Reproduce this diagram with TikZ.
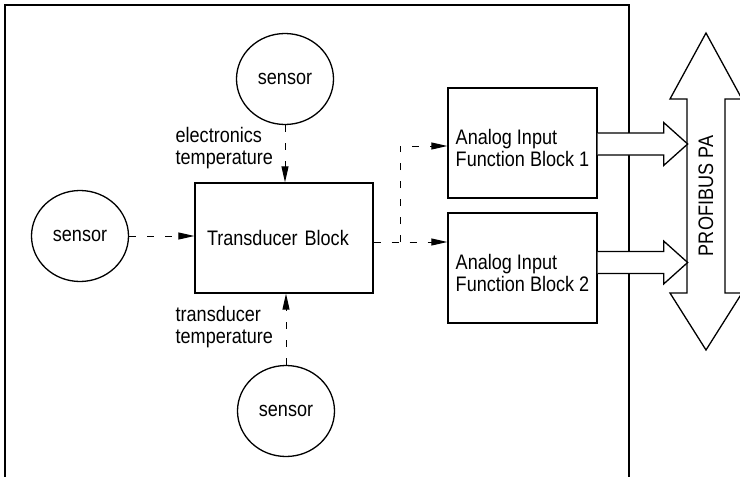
\documentclass[tikz,border=0pt]{standalone}
\usepackage{fontspec}
\setmainfont{Liberation Sans}[FakeStretch=0.86]
\usetikzlibrary{arrows.meta,shapes.geometric,calc}

\begin{document}
\begin{tikzpicture}[x=1pt, y=-1pt, >=Stealth,
      font=\fontsize{21pt}{21.5pt}\selectfont,
      line width=1.3pt,
      sensor/.style={draw, ellipse, minimum width=97pt, minimum height=91pt,
                     inner sep=0pt},
      blk/.style={draw, rectangle, align=left, inner sep=0pt,
                  minimum height=110pt},
      lbl/.style={anchor=north west, inner sep=0pt, align=left},
      dasharr/.style={-{Triangle[length=16pt,width=7pt]}, line width=1pt,
                      dash pattern=on 7pt off 11pt},
      fatarr/.style={draw, fill=white, line width=1.3pt, line join=miter}
    ]
    \useasboundingbox (0,0) rectangle (740,477);

    % device frame, open at the bottom
    \draw (5,477) -- (5,5) -- (629,5) -- (629,477);

    \node[sensor] (s1) at (285,79) {sensor};
    \node[sensor] (s2) at (80,236) {sensor};
    \node[sensor] (s3) at (286,411) {sensor};

    \node[blk, minimum width=178pt, text width=154pt] (tb) at (284,238)
          {Transducer Block};
    \node[blk, minimum width=149pt] (ai1) at (522.5,143)
          {\rule{0pt}{25pt}Analog Input\\Function Block 1};
    \node[blk, minimum width=149pt] (ai2) at (522.5,268)
          {\rule{0pt}{25pt}Analog Input\\Function Block 2};

    \node[lbl] (etemp) at (175,127) {electronics\\temperature};
    \node[lbl] (ttemp) at (175,306) {transducer\\temperature};

    \draw[dasharr] (s2) -- (tb.west |- s2);
    \draw[dasharr] (s1) -- (s1 |- tb.north);
    \draw[dasharr] (s3) -- (s3 |- tb.south);

    \coordinate (split) at (400,242);
    \draw[dasharr] (tb.east |- split) -- (ai2.west |- split);
    \draw[dasharr] (split) |- ($(ai1.west)+(0,3)$);

    % PROFIBUS bus
    \draw[fatarr] (706,33) -- (742,99) -- (725,99) -- (725,293) -- (742,293)
      -- (706,350) -- (670,293) -- (687,293) -- (687,99) -- (670,99) -- cycle;
    \node[inner sep=0pt, rotate=90] (bus) at (706,196) {PROFIBUS PA};

    \foreach \i/\dy in {1/1, 2/-5.5}{
      \draw[fatarr] ($(ai\i.east)+(0,\dy-11)$) -- ++(66,0) -- ++(0,-10.5)
        -- ($(ai\i.east)+(90,\dy)$) -- ($(ai\i.east)+(66,\dy+21.5)$)
        -- ++(0,-10.5) -- ($(ai\i.east)+(0,\dy+11)$);
    }
  \end{tikzpicture}
\end{document}
